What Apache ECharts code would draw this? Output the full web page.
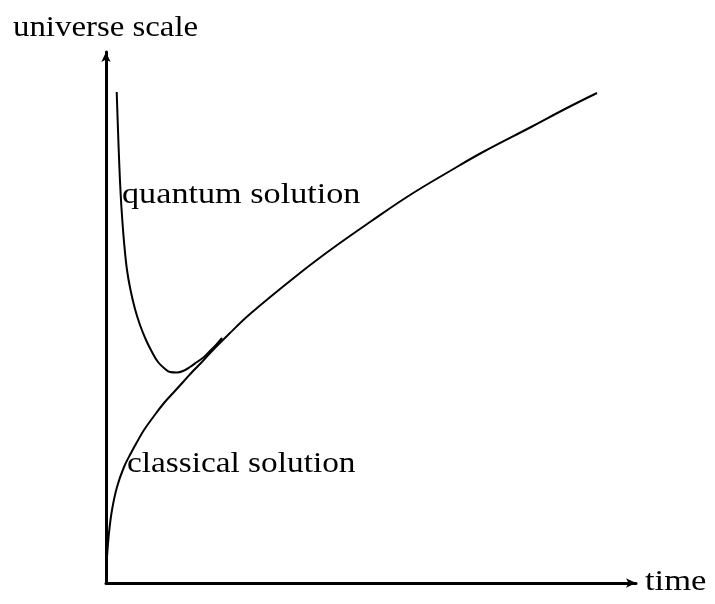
<!DOCTYPE html>
<html>
<head>
<meta charset="utf-8">
<script src="https://cdn.jsdelivr.net/npm/echarts@6/dist/echarts.min.js"></script>
<style>
html,body{margin:0;padding:0;background:#fff;}
#chart{width:715px;height:604px;}
</style>
</head>
<body>
<div id="chart"></div>
<script>
// Schematic: time vs universe scale (arbitrary units)
const classicalTime  = [1, 3, 6, 11, 18, 25, 31, 38, 48, 58, 68, 78, 88, 95, 106, 122, 144, 194, 227, 264, 304, 344, 377, 427, 459, 491];
const classicalScale = [26, 50, 73, 96, 116, 130, 141, 153, 167, 180, 191, 202, 213, 220, 232, 248, 269, 310, 335, 361, 388, 412, 431, 457, 474, 490];
const quantumTime  = [10.7, 12, 13.3, 14.7, 16.3, 18.3, 21, 24.5, 29, 34, 40, 46, 52, 58, 64, 71, 77, 84, 91, 98, 104, 110, 116];
const quantumScale = [491, 453, 418, 388, 363, 338, 313, 293, 274, 258, 243, 231, 221, 215, 211, 210.5, 212, 216, 221, 226, 232, 238, 245];
const axisNames = {x: 'time', y: 'universe scale'};
const curveLabels = {quantum: 'quantum solution', classical: 'classical solution'};

const pair = (xs, ys) => xs.map((x, i) => [x, ys[i]]);
const FONT = '"Liberation Serif", "DejaVu Serif", serif';
const textEl = (txt, x, y, sx, align) => ({
  type: 'text', x: x, y: y, scaleX: sx, originX: 0, originY: 0,
  style: {text: txt, font: '30px ' + FONT, fill: '#000', align: align || 'left', verticalAlign: 'middle'}
});

const chart = echarts.init(document.getElementById('chart'), null, {renderer: 'canvas'});
chart.setOption({
  backgroundColor: '#ffffff',
  animation: false,
  grid: {left: 106, right: 79, top: 52, bottom: 21, containLabel: false, outerBoundsMode: 'none'},
  xAxis: {
    type: 'value', min: 0, max: 530,
    axisLine: {show: true, onZero: false, symbol: ['none', 'arrow'], symbolSize: [7, 10],
      lineStyle: {color: '#000', width: 3}},
    axisTick: {show: false}, axisLabel: {show: false}, splitLine: {show: false}
  },
  yAxis: {
    type: 'value', min: 0, max: 531,
    axisLine: {show: true, onZero: false, symbol: ['none', 'arrow'], symbolSize: [7, 10],
      lineStyle: {color: '#000', width: 3}},
    axisTick: {show: false}, axisLabel: {show: false}, splitLine: {show: false}
  },
  series: [
    {type: 'line', name: 'classical', data: pair(classicalTime, classicalScale),
      showSymbol: false, symbol: 'none', smooth: 0.4,
      lineStyle: {color: '#000', width: 2}},
    {type: 'line', name: 'quantum', data: pair(quantumTime, quantumScale),
      showSymbol: false, symbol: 'none', smooth: 0.4,
      lineStyle: {color: '#000', width: 2}}
  ],
  graphic: [
    textEl(axisNames.y, 13, 28, 1.095),
    textEl(axisNames.x, 645, 582, 1.15),
    textEl(curveLabels.quantum, 122, 195, 1.14),
    textEl(curveLabels.classical, 127, 464, 1.11)
  ]
});
</script>
</body>
</html>
